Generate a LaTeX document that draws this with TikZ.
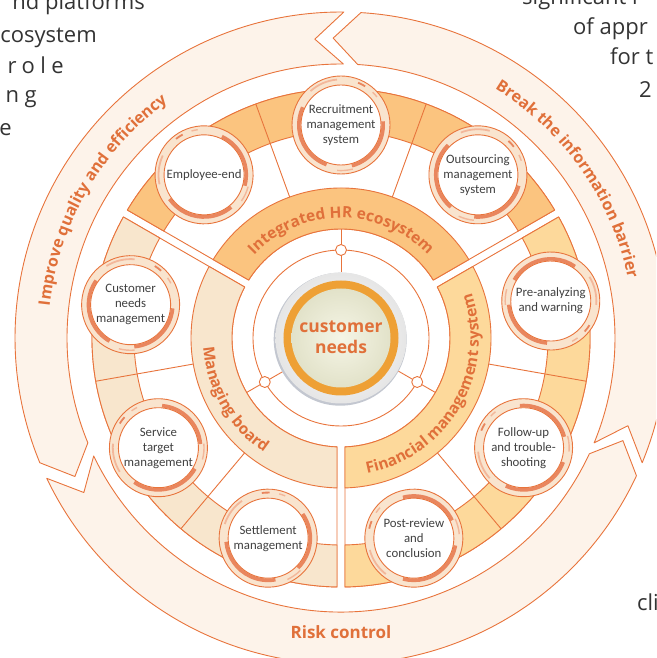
\documentclass[tikz,border=0pt]{standalone}
\usepackage{fontspec}
\setmainfont{Open Sans}
\newfontfamily\nodefont{Carlito}
\usetikzlibrary{decorations.text}
\definecolor{ol}{HTML}{E8743C}
\definecolor{topc}{HTML}{FBC47F}
\definecolor{rightc}{HTML}{FDD99B}
\definecolor{leftc}{HTML}{F8E6CD}
\definecolor{arrowc}{HTML}{FDF3EA}
\definecolor{lbl}{HTML}{E0703A}
\definecolor{salmon}{HTML}{E9865E}
\definecolor{salmonl}{HTML}{F3B79A}
\definecolor{nodebg}{HTML}{F9E4CE}
\definecolor{txt}{HTML}{404040}
\definecolor{bgtxt}{HTML}{333333}
\definecolor{ringor}{HTML}{EEA035}
\definecolor{diskin}{HTML}{F5F5E6}
\definecolor{diskout}{HTML}{E2E2C9}
\definecolor{shadowc}{HTML}{C3C7D0}

\tikzset{
  outline/.style={draw=ol, line width=0.9pt},
  arrowshape/.style={outline, fill=arrowc},
  nodetext/.style={font=\nodefont\fontsize{12.8}{15}\selectfont, text=txt, align=center, inner sep=0pt},
  bgtext/.style={font=\fontsize{22}{26}\selectfont, text=bgtxt, inner sep=0pt},
  smallring/.style={outline, fill=white},
}

% annular sector with parallel-edged gaps
\newcommand\ringsector[5]{%
  \pgfmathsetmacro\sA{#1+asin(4/#3)}%
  \pgfmathsetmacro\sB{#2-asin(4/#3)}%
  \pgfmathsetmacro\sC{#2-asin(4/#4)}%
  \pgfmathsetmacro\sD{#1+asin(4/#4)}%
  \draw[#5] (\sA:#3) arc[start angle=\sA, end angle=\sB, radius=#3 pt]
     -- (\sC:#4) arc[start angle=\sC, end angle=\sD, radius=#4 pt] -- cycle;
}
% outer arrow piece: tail angle, head angle (counter-clockwise)
\newcommand\arrowpiece[2]{%
  \pgfmathsetmacro\tN{#1+5.5}%
  \pgfmathsetmacro\hT{#2+5}%
  \draw[arrowshape] (#1:326) arc[start angle=#1, end angle=#2, radius=326pt]
     -- (\hT:300) -- (#2:274) arc[start angle=#2, end angle=#1, radius=274pt]
     -- (\tN:300) -- cycle;
}
% node circle: name, angle, text, decoration rotation
\newcommand\hrnode[4]{%
  \begin{scope}[shift={(#2:213)}, rotate=#4]
    \draw[outline, fill=nodebg] (0,0) circle[radius=49pt];
    \draw[salmon, line width=3.6pt] (155:42.2) arc[start angle=155, end angle=250, radius=42.2pt];
    \draw[salmon, line width=3.6pt] (-75:42.2) arc[start angle=-75, end angle=5, radius=42.2pt];
    \draw[salmonl, line width=1.8pt] (95:45.6) arc[start angle=95, end angle=132, radius=45.6pt];
    \draw[salmon, line width=1.8pt] (58:45.6) arc[start angle=58, end angle=68, radius=45.6pt];
    \draw[salmonl, line width=1.4pt] (38:45.6) arc[start angle=38, end angle=46, radius=45.6pt];
    \draw[salmonl, line width=1.4pt] (265:45.6) arc[start angle=265, end angle=285, radius=45.6pt];
    \draw[outline, fill=white] (0,0) circle[radius=40pt];
  \end{scope}
  \node[nodetext] (#1) at (#2:213) {#3};
}

\begin{document}
\begin{tikzpicture}[x=1pt, y=1pt, line join=round]
\clip (-341,-320) rectangle (315,338);

% background text fragments
\node[bgtext, anchor=base east] (f1) at (145-341, 338-10) {nd platforms};
\node[bgtext, anchor=base east] (f2) at (97-341, 338-43) {cosystem};
\node[bgtext, anchor=base east, font=\fontsize{22}{26}\selectfont\addfontfeature{LetterSpace=25}] (f3) at (64-341, 338-74) {role};
\node[bgtext, anchor=base east, font=\fontsize{22}{26}\selectfont\addfontfeature{LetterSpace=25}] (f4) at (37-341, 338-103) {ng};
\node[bgtext, anchor=base east] (f5) at (12-341, 338-136) {e};
\node[bgtext, anchor=base west] (f6) at (522-341, 338-5) {significant i};
\node[bgtext, anchor=base west] (f7) at (573-341, 338-35) {of appr};
\node[bgtext, anchor=base west] (f8) at (610-341, 338-65) {for t};
\node[bgtext, anchor=base west] (f9) at (639-341, 338-98) {2};
\node[bgtext, anchor=base west] (f10) at (637-341, 338-610) {cli};

% outer arrows
\arrowpiece{205.5}{335}
\arrowpiece{337.5}{446.5}
\arrowpiece{89.5}{202.5}

\path[decorate, decoration={text along path, text align=center,
  text={|\fontsize{16}{18}\selectfont\bfseries\color{lbl}|Improve quality and efficiency}}]
  (205:293) arc[start angle=205, end angle=95, radius=293pt];
\path[decorate, decoration={text along path, text align=center,
  text={|\fontsize{16}{18}\selectfont\bfseries\color{lbl}|Break the information barrier}}]
  (86:293) arc[start angle=86, end angle=-16, radius=293pt];
\node[font=\fontsize{17}{19}\selectfont\bfseries, text=lbl, inner sep=0pt] (risk) at (0,-294) {Risk control};

% three sectors
\foreach \a/\c in {30/topc, 150/leftc, 270/rightc}{
  \pgfmathsetmacro\b{\a+120}
  \ringsector{\a}{\b}{109}{249}{outline, fill=white}
  \ringsector{\a}{\b}{109}{150}{outline, fill=\c}
  \ringsector{\a}{\b}{207}{249}{outline, fill=\c}
  \pgfmathsetmacro\la{\a+40}
  \pgfmathsetmacro\lb{\a+80}
  \draw[outline] (\la:150) -- (\la:249);
  \draw[outline] (\lb:150) -- (\lb:249);
}

% sector labels
\path[decorate, decoration={text along path, text align=center,
  text={|\fontsize{15.5}{17}\selectfont\bfseries\color{lbl}|Integrated HR ecosystem}}]
  (152:120) arc[start angle=152, end angle=28, radius=120pt];
\path[decorate, decoration={text along path, text align=center,
  text={|\fontsize{15.5}{17}\selectfont\bfseries\color{lbl}|Managing board}}]
  (150:138) arc[start angle=150, end angle=270, radius=138pt];
\path[decorate, decoration={text along path, text align=center,
  text={|\fontsize{15.5}{17}\selectfont\bfseries\color{lbl}|Financial management system}}]
  (268:138) arc[start angle=268, end angle=392, radius=138pt];

% inner rings
\draw[outline] (0,0) circle[radius=88pt];
\foreach \t in {90,210,330}{
  \draw[outline] (\t:66) -- (\t:109);
  \draw[smallring] (\t:88) circle[radius=5.5pt];
}

% centre disk
\fill[shadowc] (-0.8,-1.2) circle[radius=66.5pt];
\shade[inner color=white, outer color=black!10] (0,0) circle[radius=65.5pt];
\fill[ringor] (0,0) circle[radius=57.5pt];
\shade[inner color=diskin, outer color=diskout] (0,0) circle[radius=49.5pt];
\node[font=\fontsize{17.5}{21}\selectfont\bfseries, text=lbl, align=center, inner sep=0pt] (cn) at (0,1) {customer\\needs};

% node circles
\hrnode{rec}{90}{Recruitment\\management\\system}{0}
\hrnode{out}{50}{Outsourcing\\management\\system}{-20}
\hrnode{pre}{10}{Pre-analyzing\\and warning}{-100}
\hrnode{fol}{329}{Follow-up\\and trouble-\\shooting}{90}
\hrnode{post}{290}{Post-review\\and\\conclusion}{100}
\hrnode{set}{250}{Settlement\\management}{30}
\hrnode{ser}{211}{Service\\target\\management}{80}
\hrnode{cus}{171}{Customer\\needs\\management}{-10}
\hrnode{emp}{130}{Employee-end}{60}
\end{tikzpicture}
\end{document}
